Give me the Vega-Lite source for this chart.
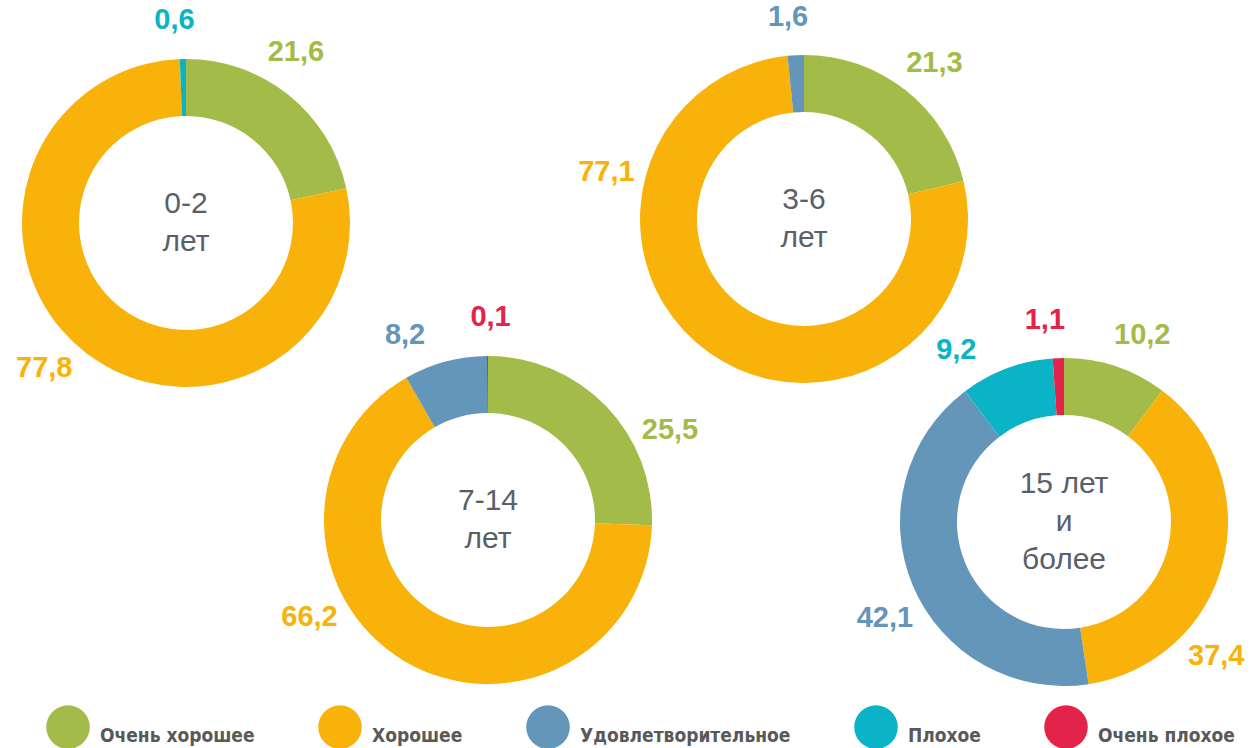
{
  "$schema": "https://vega.github.io/schema/vega-lite/v6.json",
  "width": 1252,
  "height": 748,
  "padding": 0,
  "autosize": {"type": "none"},
  "background": "white",
  "config": {"view": {"stroke": null}},
  "datasets": {
    "shares": [
      {"age": "0-2", "category": "Очень хорошее", "value": 21.6, "labelAt": 9.1},
      {"age": "0-2", "category": "Хорошее", "value": 77.8, "labelAt": 62.3},
      {"age": "0-2", "category": "Плохое", "value": 0.6, "labelAt": 99.1},
      {"age": "3-6", "category": "Очень хорошее", "value": 21.3, "labelAt": 11.1},
      {"age": "3-6", "category": "Хорошее", "value": 77.1, "labelAt": 78.7},
      {"age": "3-6", "category": "Удовлетворительное", "value": 1.6, "labelAt": 98.75},
      {"age": "7-14", "category": "Очень хорошее", "value": 25.5, "labelAt": 17.7},
      {"age": "7-14", "category": "Хорошее", "value": 66.2, "labelAt": 67.1},
      {"age": "7-14", "category": "Удовлетворительное", "value": 8.2, "labelAt": 93.3},
      {"age": "7-14", "category": "Очень плохое", "value": 0.1, "labelAt": 0.2},
      {"age": "15+", "category": "Очень хорошее", "value": 10.2, "labelAt": 6.3},
      {"age": "15+", "category": "Хорошее", "value": 37.4, "labelAt": 36.5},
      {"age": "15+", "category": "Удовлетворительное", "value": 42.1, "labelAt": 67.2},
      {"age": "15+", "category": "Плохое", "value": 9.2, "labelAt": 91.1},
      {"age": "15+", "category": "Очень плохое", "value": 1.1, "labelAt": 98.5}
    ],
    "centers": [
      {"age": "0-2", "title": ["0-2", "лет"]},
      {"age": "3-6", "title": ["3-6", "лет"]},
      {"age": "7-14", "title": ["7-14", "лет"]},
      {"age": "15+", "title": ["15 лет", "и", "более"]}
    ]
  },
  "layer": [
    {
      "encoding": {
        "x": {"field": "age", "type": "nominal", "axis": null,
              "scale": {"type": "point", "domain": ["0-2", "3-6"], "range": [186, 804], "padding": 0}},
        "y": {"field": "age", "type": "nominal", "axis": null,
              "scale": {"type": "point", "domain": ["0-2", "3-6"], "range": [223, 219], "padding": 0}}
      },
      "layer": [
        {
          "data": {"name": "shares"},
          "transform": [
            {"filter": {"field": "age", "oneOf": ["0-2", "3-6"]}},
            {"stack": "value", "groupby": ["age"], "as": ["v0", "v1"]}
          ],
          "mark": {"type": "arc", "outerRadius": 164, "innerRadius": 107},
          "encoding": {
            "theta": {"field": "v0", "type": "quantitative", "scale": {"domain": [0, 100]}},
            "theta2": {"field": "v1"},
            "color": {"field": "category", "type": "nominal",
              "scale": {"domain": ["Очень хорошее", "Хорошее", "Удовлетворительное", "Плохое", "Очень плохое"],
                        "range": ["#A3BB48", "#F8B20A", "#6396B9", "#0BB3C6", "#E4234A"]},
              "legend": {
                "title": null,
                "orient": "none",
                "legendX": 46,
                "legendY": 705,
                "direction": "horizontal",
                "symbolType": "circle",
                "symbolSize": 1900,
                "symbolStrokeWidth": 0,
                "symbolOpacity": 1,
                "labelFont": "DejaVu Sans Condensed, Liberation Sans",
                "labelFontWeight": "bold",
                "labelFontSize": 19,
                "labelColor": "#595959",
                "labelBaseline": "top",
                "labelOffset": 10,
                "labelLimit": 400,
                "columnPadding": 63,
                "padding": 0
              }}
          }
        },
        {
          "data": {"name": "shares"},
          "transform": [
            {"filter": {"field": "age", "oneOf": ["0-2", "3-6"]}},
            {"calculate": "replace(format(datum.value, '.1f'), '.', ',')", "as": "label"}
          ],
          "mark": {"type": "text", "radius": 203, "font": "Liberation Sans", "fontWeight": "bold", "fontSize": 29, "align": "center", "baseline": "middle"},
          "encoding": {
            "theta": {"field": "labelAt", "type": "quantitative", "scale": {"domain": [0, 100]}},
            "text": {"field": "label"},
            "color": {"field": "category", "type": "nominal", "legend": null}
          }
        },
        {
          "data": {"name": "centers"},
          "transform": [{"filter": {"field": "age", "oneOf": ["0-2", "3-6"]}}],
          "mark": {"type": "text", "font": "Liberation Sans", "fontSize": 30, "color": "#596069", "lineHeight": 38, "align": "center", "baseline": "middle", "dy": {"expr": "-(length(datum.title) - 1) * 19"}},
          "encoding": {"text": {"field": "title"}}
        }
      ]
    },
    {
      "encoding": {
        "x": {"field": "age", "type": "nominal", "axis": null,
              "scale": {"type": "point", "domain": ["7-14", "15+"], "range": [488, 1064], "padding": 0}},
        "y": {"field": "age", "type": "nominal", "axis": null,
              "scale": {"type": "point", "domain": ["7-14", "15+"], "range": [520, 522], "padding": 0}}
      },
      "layer": [
        {
          "data": {"name": "shares"},
          "transform": [
            {"filter": {"field": "age", "oneOf": ["7-14", "15+"]}},
            {"stack": "value", "groupby": ["age"], "as": ["v0", "v1"]}
          ],
          "mark": {"type": "arc", "outerRadius": 164, "innerRadius": 107},
          "encoding": {
            "theta": {"field": "v0", "type": "quantitative", "scale": {"domain": [0, 100]}},
            "theta2": {"field": "v1"},
            "color": {"field": "category", "type": "nominal", "legend": null}
          }
        },
        {
          "data": {"name": "shares"},
          "transform": [
            {"filter": {"field": "age", "oneOf": ["7-14", "15+"]}},
            {"calculate": "replace(format(datum.value, '.1f'), '.', ',')", "as": "label"}
          ],
          "mark": {"type": "text", "radius": 203, "font": "Liberation Sans", "fontWeight": "bold", "fontSize": 29, "align": "center", "baseline": "middle"},
          "encoding": {
            "theta": {"field": "labelAt", "type": "quantitative", "scale": {"domain": [0, 100]}},
            "text": {"field": "label"},
            "color": {"field": "category", "type": "nominal", "legend": null}
          }
        },
        {
          "data": {"name": "centers"},
          "transform": [{"filter": {"field": "age", "oneOf": ["7-14", "15+"]}}],
          "mark": {"type": "text", "font": "Liberation Sans", "fontSize": 30, "color": "#596069", "lineHeight": 38, "align": "center", "baseline": "middle", "dy": {"expr": "-(length(datum.title) - 1) * 19"}},
          "encoding": {"text": {"field": "title"}}
        }
      ]
    }
  ],
  "resolve": {"scale": {"x": "independent", "y": "independent"}}
}
